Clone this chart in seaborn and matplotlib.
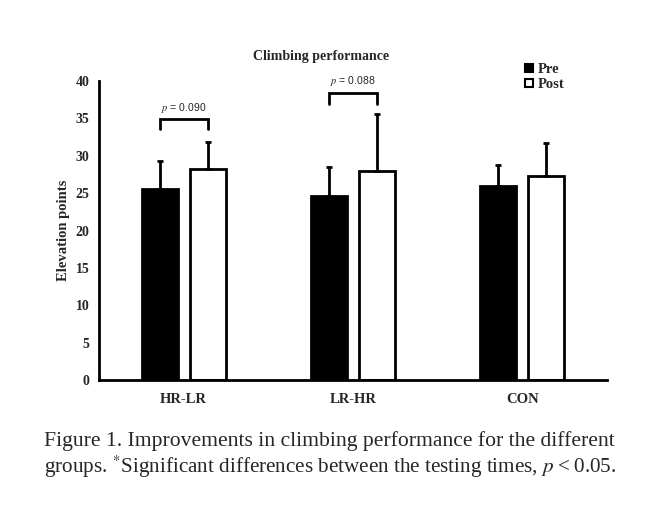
import numpy as np
import pandas as pd
import matplotlib
matplotlib.use('Agg')
import matplotlib.pyplot as plt
from matplotlib.lines import Line2D
import seaborn as sns

groups = ['HR-LR', 'LR-HR', 'CON']
times = ['Pre', 'Post']
pre_mean = [25.6, 24.6, 26.0]
pre_sd = [3.7, 3.9, 2.8]
post_mean = [28.2, 27.9, 27.3]
post_sd = [3.6, 7.7, 4.4]

# significance brackets (group index, p label, bracket top, leg bottom)
p_groups = [0, 1]
p_labels = ['0.090', '0.088']
p_top = [34.9, 38.4]
p_leg = [33.6, 36.9]

yticks = [0, 5, 10, 15, 20, 25, 30, 35, 40]

df = pd.DataFrame({
    'group': groups * 2,
    'time': ['Pre'] * 3 + ['Post'] * 3,
    'value': pre_mean + post_mean,
})

sns.set_style('white')
plt.rcParams['font.family'] = ['Liberation Serif', 'DejaVu Serif']
plt.rcParams['mathtext.fontset'] = 'stix'

fig = plt.figure(figsize=(6.47, 5.24), dpi=100)
ax = fig.add_axes([0.153, 0.2748, 0.785, 0.5706])

sns.barplot(data=df, x='group', y='value', hue='time', order=groups, hue_order=times,
            palette={'Pre': 'black', 'Post': 'white'}, edgecolor='black', linewidth=2,
            width=0.568, gap=0.25, errorbar=None, legend=False, ax=ax)

centers = []
for cont, sd in zip(ax.containers, [pre_sd, post_sd]):
    xs = [b.get_x() + b.get_width() / 2 for b in cont]
    ys = [b.get_height() for b in cont]
    centers.append(xs)
    ax.errorbar(xs, ys, yerr=[np.zeros(len(sd)), sd], fmt='none', ecolor='black',
                elinewidth=2, capsize=2.5, capthick=2, zorder=5)

for g, lab, top, leg in zip(p_groups, p_labels, p_top, p_leg):
    x0, x1 = centers[0][g], centers[1][g]
    ax.plot([x0, x0, x1, x1], [leg, top, top, leg], color='black', lw=2,
            clip_on=False, solid_joinstyle='miter')
    ax.text((x0 + x1) / 2, top + 0.6, '$\\it{p}$ = ' + lab, ha='center', va='bottom',
            fontsize=7.5, family=['Liberation Sans', 'DejaVu Sans'], clip_on=False)

ax.set_xlim(-0.5, 2.5)
ax.set_ylim(0, 40)
ax.set_yticks(yticks)
ax.set_yticklabels([str(t) for t in yticks], fontsize=10, fontweight='bold')
ax.set_xticklabels(groups, fontsize=10.5, fontweight='bold')
ax.tick_params(axis='both', length=0)
ax.tick_params(axis='y', pad=7)
ax.tick_params(axis='x', pad=9)
ax.set_xlabel('')
ax.set_ylabel('Elevation points', fontsize=10.5, fontweight='bold', labelpad=4)
sns.despine(ax=ax)
for s in ['left', 'bottom']:
    ax.spines[s].set_linewidth(2)
    ax.spines[s].set_color('black')

fig.text(0.497, 0.893, 'Climbing performance', ha='center', va='center',
         fontsize=10, fontweight='bold')

handles = [Line2D([], [], marker='s', ls='none', markersize=6, markerfacecolor=c,
                  markeredgecolor='black', markeredgewidth=1.5) for c in ['black', 'white']]
fig.legend(handles, times, loc='upper left', bbox_to_anchor=(0.8, 0.894),
           frameon=False, handlelength=0.6, handletextpad=0.25, labelspacing=0.1,
           borderpad=0, prop={'weight': 'bold', 'size': 10.5})

fig.text(0.068, 0.158, 'Figure 1. Improvements in climbing performance for the different',
         ha='left', va='center', fontsize=15.6)
fig.text(0.068, 0.110, 'groups. $^{*}$Significant differences between the testing times, $\\it{p}$\u2009<\u20090.05.',
         ha='left', va='center', fontsize=15.2)

fig.savefig('out.png', dpi=100, facecolor='white')
